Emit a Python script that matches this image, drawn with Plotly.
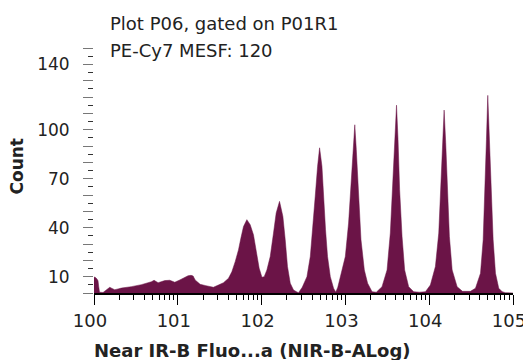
import plotly.graph_objects as go
import numpy as np

# x in decades (log10 of fluorescence), y = count
x_dec = [0.000, 0.018, 0.036, 0.048, 0.056, 0.066, 0.108, 0.143, 0.188, 0.215, 0.247, 0.287,
         0.326, 0.446, 0.565, 0.685, 0.717, 0.765, 0.845, 0.904, 0.964, 1.024, 1.075, 1.123,
         1.159, 1.183, 1.207, 1.243, 1.267, 1.335, 1.425, 1.485, 1.545, 1.605, 1.645, 1.685,
         1.724, 1.753, 1.784, 1.824, 1.864, 1.903, 1.944, 1.971, 2.004, 2.031, 2.063, 2.103,
         2.142, 2.174, 2.214, 2.254, 2.282, 2.309, 2.342, 2.381, 2.422, 2.441, 2.485, 2.541,
         2.581, 2.613, 2.640, 2.668, 2.692, 2.720, 2.739, 2.763, 2.787, 2.820, 2.859, 2.885,
         2.909, 2.939, 2.999, 3.038, 3.071, 3.098, 3.112, 3.130, 3.158, 3.186, 3.226, 3.265,
         3.318, 3.369, 3.437, 3.497, 3.536, 3.564, 3.588, 3.610, 3.628, 3.647, 3.676, 3.707,
         3.755, 3.815, 3.883, 3.955, 4.014, 4.074, 4.114, 4.137, 4.158, 4.178, 4.197, 4.217,
         4.241, 4.274, 4.333, 4.397, 4.492, 4.552, 4.612, 4.644, 4.668, 4.683, 4.699, 4.719,
         4.740, 4.763, 4.791, 4.830, 4.871, 4.910, 5.000]
counts = [9.8, 9.5, 8.5, 7.5, 4.0, 0.5, 0.3, 1.5, 3.5, 2.8, 2.0, 2.5,
          3.0, 3.9, 5.1, 6.9, 7.8, 6.3, 7.6, 7.8, 6.6, 8.0, 9.5, 10.6,
          10.8, 10.4, 8.0, 6.5, 5.3, 4.5, 3.5, 4.9, 6.3, 9.0, 13.0, 19.2,
          26.4, 33.6, 40.7, 44.9, 41.8, 35.6, 24.4, 15.2, 9.6, 10.0, 14.1, 22.3,
          36.7, 49.0, 56.1, 46.9, 32.6, 16.2, 6.0, 1.8, 0.6, 0.2, 3.5, 10.0,
          22.3, 40.7, 59.2, 77.6, 88.9, 77.6, 59.2, 38.7, 22.3, 10.0, 2.9, 0.5,
          3.5, 10.0, 22.3, 42.8, 69.3, 92.0, 103.0, 87.8, 59.2, 32.6, 14.1, 6.0,
          0.8, 0.5, 3.9, 14.1, 36.7, 63.3, 94.0, 115.0, 94.0, 63.3, 34.6, 14.1,
          3.9, 0.8, 0.5, 0.8, 4.9, 16.2, 36.7, 63.3, 92.0, 112.0, 92.0, 63.3,
          34.6, 14.1, 3.9, 1.0, 1.0, 2.9, 12.1, 32.6, 63.3, 94.0, 121.0, 94.0,
          63.3, 32.6, 12.1, 2.9, 0.8, 0.2, 0.0]

decades = [0, 1, 2, 3, 4, 5]
decade_labels = ["100", "101", "102", "103", "104", "105"]
y_major = list(range(0, 151, 10))
y_labeled = {10: "10", 40: "40", 70: "70", 100: "100", 140: "140"}

minor_x = [d + np.log10(m) for d in decades[:-1] for m in range(2, 10)]

fill_color = "#6b1447"
font_fam = "DejaVu Sans"
txt_col = "#222222"

fig = go.Figure()
fig.add_trace(go.Scatter(x=x_dec, y=counts, mode="lines", fill="tozeroy",
                         line=dict(color=fill_color, width=0.5),
                         fillcolor=fill_color, hoverinfo="skip"))

fig.update_layout(
    width=523, height=360,
    margin=dict(l=94, r=10, t=48, b=67, autoexpand=False),
    plot_bgcolor="white", paper_bgcolor="white",
    showlegend=False,
    font=dict(family=font_fam, size=16, color=txt_col),
    xaxis=dict(range=[0, 5], tickmode="array", tickvals=decades, ticktext=decade_labels,
               ticks="outside", ticklen=10, tickwidth=1, tickcolor="black",
               showline=True, linecolor="black", linewidth=2, showgrid=False, zeroline=False,
               tickfont=dict(size=18, color=txt_col), ticklabeloverflow="allow",
               ticklabelshift=-4, automargin=False,
               minor=dict(tickvals=minor_x, ticks="outside", ticklen=5, tickcolor="black",
                          tickwidth=1, showgrid=False)),
    yaxis=dict(range=[0, 150], tickmode="array", tickvals=y_major,
               ticktext=[y_labeled.get(v, "") for v in y_major],
               ticks="outside", ticklen=10, tickwidth=1, tickcolor="#777777",
               showline=False, showgrid=False, zeroline=False,
               ticklabelstandoff=10, automargin=False,
               tickfont=dict(size=17, color=txt_col),
               minor=dict(dtick=5, tick0=5, ticks="outside", ticklen=5, tickcolor="#333333",
                          tickwidth=1, showgrid=False)),
)

fig.add_annotation(text="<b>Count</b>", xref="paper", yref="paper", x=-0.184, y=0.52,
                   textangle=-90, showarrow=False, xanchor="center", yanchor="middle",
                   font=dict(size=17, color=txt_col))
fig.add_annotation(text="<b>Near IR-B Fluo...a (NIR-B-ALog)</b>", xref="paper", yref="paper",
                   x=0.379, y=-0.233, showarrow=False, xanchor="center", yanchor="middle",
                   font=dict(size=18, color=txt_col))
fig.add_annotation(text="Plot P06, gated on P01R1", xref="paper", yref="paper",
                   x=0.0335, y=1.102, showarrow=False, xanchor="left", yanchor="middle",
                   font=dict(size=18, color=txt_col))
fig.add_annotation(text="PE-Cy7 MESF: 120", xref="paper", yref="paper",
                   x=0.0335, y=0.988, showarrow=False, xanchor="left", yanchor="middle",
                   font=dict(size=18, color=txt_col))

fig.write_html("out.html")
